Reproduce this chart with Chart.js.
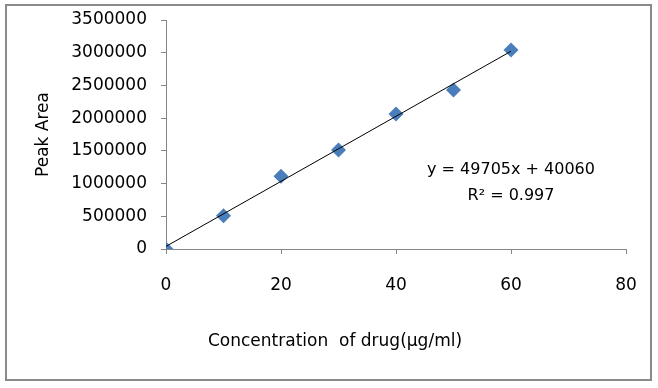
<!DOCTYPE html>
<html>
<head>
<meta charset="utf-8">
<script src="https://cdn.jsdelivr.net/npm/chart.js@4.4.0/dist/chart.umd.min.js"></script>
<style>
  html, body { margin: 0; padding: 0; background: #fff; }
  #wrap { position: relative; width: 658px; height: 388px; }
  #frame { position: absolute; left: 5px; top: 4px; width: 643px; height: 373px; border: 2px solid #8a8a8a; }
  canvas { position: absolute; left: 0; top: 0; }
</style>
</head>
<body>
<div id="wrap">
  <div id="frame"></div>
  <canvas id="c" width="658" height="388"></canvas>
</div>
<script>
const concentrations = [0, 10, 20, 30, 40, 50, 60];
const peakAreas = [0, 510000, 1112000, 1514000, 2063000, 2432000, 3043000];
const slope = 49705;
const intercept = 40060;
const trendX = [0, 60];
const equationText = 'y = 49705x + 40060';
const r2Text = 'R\u00B2 = 0.997';
const xTitle = 'Concentration  of drug(\u00B5g/ml)';
const yTitle = 'Peak Area';

const FONT = 'DejaVu Sans';
const axisGray = '#868686';

const scatterData = concentrations.map((x, i) => ({ x: x, y: peakAreas[i] }));
const trendData = trendX.map(x => ({ x: x, y: slope * x + intercept }));

const textPlugin = {
  id: 'texts',
  afterDraw(chart) {
    const ctx = chart.ctx;
    const xs = chart.scales.x, ys = chart.scales.y;
    ctx.save();
    ctx.fillStyle = '#000';
    ctx.font = '16px "' + FONT + '"';
    ctx.textAlign = 'center';
    ctx.textBaseline = 'middle';
    const cx = xs.getPixelForValue(60);
    ctx.fillText(equationText, cx, ys.getPixelForValue(1215000));
    ctx.fillText(r2Text, cx, ys.getPixelForValue(810000));
    ctx.font = '17px "' + FONT + '"';
    ctx.fillText(xTitle, 335, 342);
    ctx.restore();
  }
};

new Chart(document.getElementById('c'), {
  type: 'scatter',
  data: {
    datasets: [
      {
        type: 'line',
        data: trendData,
        borderColor: '#000',
        borderWidth: 1,
        pointRadius: 0,
        fill: false,
        order: 0
      },
      {
        data: scatterData,
        pointStyle: 'rectRot',
        pointRadius: 7.5,
        pointBackgroundColor: '#4A7EBB',
        pointBorderColor: '#4A7EBB',
        pointBorderWidth: 0,
        order: 1
      }
    ]
  },
  options: {
    responsive: false,
    animation: false,
    devicePixelRatio: 1,
    layout: { padding: { top: 20, right: 32, left: 0, bottom: 0 } },
    plugins: { legend: { display: false }, tooltip: { enabled: false } },
    scales: {
      x: {
        type: 'linear',
        min: 0, max: 80,
        ticks: { stepSize: 20, color: '#000', font: { family: FONT, size: 17, lineHeight: 1.2 }, padding: 21,
                 callback: v => String(v) },
        grid: { drawOnChartArea: false, drawTicks: true, tickLength: 5, color: axisGray },
        border: { display: true, color: axisGray, width: 1 },
        afterFit(s) { s.height = 139; }
      },
      y: {
        type: 'linear',
        min: 0, max: 3500000,
        ticks: { stepSize: 500000, color: '#000', font: { family: FONT, size: 17 }, padding: 14,
                 callback: v => String(v) },
        grid: { drawOnChartArea: false, drawTicks: true, tickLength: 5, color: axisGray },
        border: { display: true, color: axisGray, width: 1 },
        title: { display: true, text: yTitle, color: '#000', font: { family: FONT, size: 17, lineHeight: 1.2 }, padding: { top: 33, bottom: 0 } },
        afterFit(s) { s.width = 166; s.paddingTop = 0; s.paddingBottom = 0; }
      }
    }
  },
  plugins: [textPlugin]
});
</script>
</body>
</html>
